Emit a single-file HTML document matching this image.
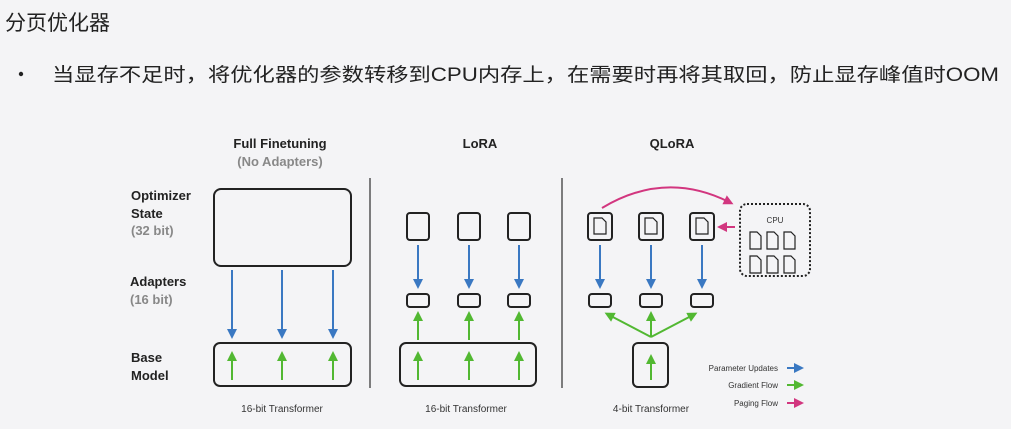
<!DOCTYPE html>
<html><head><meta charset="utf-8"><style>
html,body{margin:0;padding:0;background:#f4f4f6;}
svg{display:block;}
</style></head><body>
<svg width="1011" height="429" viewBox="0 0 1011 429" xmlns="http://www.w3.org/2000/svg" font-family="'Liberation Sans','Noto Sans CJK SC',sans-serif">
<defs>
<marker id="ab" markerWidth="10" markerHeight="10" refX="5" refY="5" orient="auto" markerUnits="userSpaceOnUse" viewBox="0 0 10 10"><path d="M0,0 L10,5 L0,10 z" fill="#3a78c2"/></marker>
<marker id="ag" markerWidth="10" markerHeight="10" refX="5" refY="5" orient="auto" markerUnits="userSpaceOnUse" viewBox="0 0 10 10"><path d="M0,0 L10,5 L0,10 z" fill="#52b832"/></marker>
<marker id="ap" markerWidth="10" markerHeight="10" refX="5" refY="5" orient="auto" markerUnits="userSpaceOnUse" viewBox="0 0 10 10"><path d="M0,0 L10,5 L0,10 z" fill="#d2367f"/></marker>
<g id="doc"><path d="M0,0 h7 l4,4 v13 h-11 z" fill="none" stroke="#222" stroke-width="1.2"/></g>
<g id="doc2"><path d="M0,0 h8 l4,4 v12 h-12 z" fill="none" stroke="#222" stroke-width="1.2"/></g>
</defs>
<rect width="1011" height="429" fill="#f4f4f6"/>
<text x="5" y="30" font-size="21" fill="#222">分页优化器</text>
<circle cx="21" cy="74" r="2.2" fill="#222"/>
<text x="52" y="81" font-size="19" fill="#222" textLength="947" lengthAdjust="spacingAndGlyphs">当显存不足时，将优化器的参数转移到CPU内存上，在需要时再将其取回，防止显存峰值时OOM</text>

<g font-weight="bold" font-size="13" fill="#222">
<text x="280" y="148" text-anchor="middle">Full Finetuning</text>
<text x="280" y="166" text-anchor="middle" fill="#888">(No Adapters)</text>
<text x="480" y="148" text-anchor="middle">LoRA</text>
<text x="672" y="148" text-anchor="middle">QLoRA</text>
<text x="131" y="200">Optimizer</text>
<text x="131" y="218">State</text>
<text x="131" y="235" fill="#888">(32 bit)</text>
<text x="130" y="286">Adapters</text>
<text x="130" y="304" fill="#888">(16 bit)</text>
<text x="131" y="362">Base</text>
<text x="131" y="380">Model</text>
</g>
<g font-size="10" fill="#333" text-anchor="middle">
<text x="282" y="412">16-bit Transformer</text>
<text x="466" y="412">16-bit Transformer</text>
<text x="651" y="412">4-bit Transformer</text>
</g>
<g fill="none" stroke="#222" stroke-width="2">
<rect x="214" y="189" width="137" height="77" rx="7"/>
<rect x="214" y="343" width="137" height="43" rx="6"/>
<rect x="407" y="213" width="22" height="27" rx="3"/>
<rect x="458" y="213" width="22" height="27" rx="3"/>
<rect x="508" y="213" width="22" height="27" rx="3"/>
<rect x="407" y="294" width="22" height="13" rx="3"/>
<rect x="458" y="294" width="22" height="13" rx="3"/>
<rect x="508" y="294" width="22" height="13" rx="3"/>
<rect x="400" y="343" width="136" height="43" rx="6"/>
<rect x="588" y="213" width="24" height="27" rx="3"/>
<rect x="639" y="213" width="24" height="27" rx="3"/>
<rect x="690" y="213" width="24" height="27" rx="3"/>
<rect x="589" y="294" width="22" height="13" rx="3"/>
<rect x="640" y="294" width="22" height="13" rx="3"/>
<rect x="691" y="294" width="22" height="13" rx="3"/>
<rect x="633" y="343" width="35" height="44" rx="5"/>
<rect x="740" y="204" width="70" height="72" rx="7" stroke-dasharray="2,2"/>
</g>
<line x1="370" y1="178" x2="370" y2="388" stroke="#555" stroke-width="1.5"/>
<line x1="562" y1="178" x2="562" y2="388" stroke="#555" stroke-width="1.5"/>
<use href="#doc2" x="594" y="218"/><use href="#doc2" x="645" y="218"/><use href="#doc2" x="696" y="218"/>
<use href="#doc" x="750" y="232"/><use href="#doc" x="767" y="232"/><use href="#doc" x="784" y="232"/>
<use href="#doc" x="750" y="256"/><use href="#doc" x="767" y="256"/><use href="#doc" x="784" y="256"/>
<text x="775" y="223" font-size="8" text-anchor="middle" fill="#333">CPU</text>
<g stroke="#3a78c2" stroke-width="2" marker-end="url(#ab)">
<line x1="232" y1="270" x2="232" y2="334"/><line x1="282" y1="270" x2="282" y2="334"/><line x1="333" y1="270" x2="333" y2="334"/>
<line x1="418" y1="245" x2="418" y2="284"/><line x1="469" y1="245" x2="469" y2="284"/><line x1="519" y1="245" x2="519" y2="284"/>
<line x1="600" y1="245" x2="600" y2="284"/><line x1="651" y1="245" x2="651" y2="284"/><line x1="702" y1="245" x2="702" y2="284"/>
<line x1="787" y1="368" x2="799" y2="368"/>
</g>
<g stroke="#52b832" stroke-width="2" marker-end="url(#ag)">
<line x1="232" y1="380" x2="232" y2="356"/><line x1="282" y1="380" x2="282" y2="356"/><line x1="333" y1="380" x2="333" y2="356"/>
<line x1="418" y1="340" x2="418" y2="316"/><line x1="469" y1="340" x2="469" y2="316"/><line x1="519" y1="340" x2="519" y2="316"/>
<line x1="418" y1="380" x2="418" y2="356"/><line x1="469" y1="380" x2="469" y2="356"/><line x1="519" y1="380" x2="519" y2="356"/>
<line x1="651" y1="337" x2="609" y2="315"/><line x1="651" y1="337" x2="651" y2="316"/><line x1="651" y1="337" x2="693" y2="315"/>
<line x1="651" y1="380" x2="651" y2="359"/>
<line x1="787" y1="385" x2="799" y2="385"/>
</g>
<g stroke="#d2367f" stroke-width="2" fill="none" marker-end="url(#ap)">
<path d="M602,208 Q665,170 729,202"/>
<line x1="735" y1="227" x2="722" y2="227"/>
<line x1="787" y1="403" x2="799" y2="403"/>
</g>
<g font-size="8" fill="#333" text-anchor="end">
<text x="778" y="371">Parameter Updates</text>
<text x="778" y="388">Gradient Flow</text>
<text x="778" y="406">Paging Flow</text>
</g>
</svg>
</body></html>
